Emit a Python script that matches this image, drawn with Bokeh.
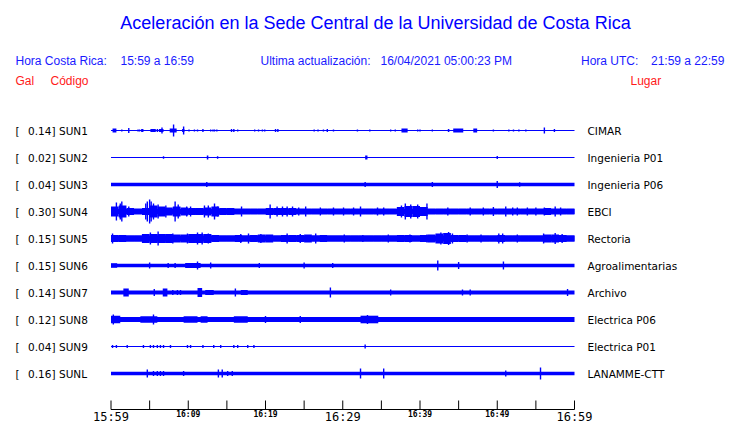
from bokeh.plotting import figure
from bokeh.models import Range1d
from bokeh.embed import file_html
from bokeh.resources import INLINE
from bokeh.core.properties import value

# ---------------- data ----------------
title = "Aceleración en la Sede Central de la Universidad de Costa Rica"
hora_cr = "15:59 a 16:59"
ultima = "16/04/2021 05:00:23 PM"
hora_utc = "21:59 a 22:59"

codes = ["SUN1", "SUN2", "SUN3", "SUN4", "SUN5", "SUN6", "SUN7", "SUN8", "SUN9", "SUNL"]
gal = ["0.14", "0.02", "0.04", "0.30", "0.15", "0.15", "0.14", "0.12", "0.04", "0.16"]
places = ["CIMAR", "Ingenieria P01", "Ingenieria P06", "EBCI", "Rectoria",
          "Agroalimentarias", "Archivo", "Electrica P06", "Electrica P01", "LANAMME-CTT"]

# background (noise) amplitude of each trace, relative units
base_amp = [0.5, 0.5, 1.7, 2.5, 3.0, 1.7, 2.0, 2.6, 0.6, 1.7]

# minute-by-minute envelope for the noisy traces (minutes 0..59)
sun4_env = [5, 6, 3.5, 3, 3.5, 6, 5, 4, 5, 4, 3.5, 3.5, 4, 5, 3.5, 3.5, 3, 3, 3, 3,
            3.5, 3.5, 3.5, 3.5, 3, 3, 3, 3, 3, 3, 3, 3, 3, 3, 3, 3, 3, 4.5, 5.5, 5.5,
            4.5, 3, 3, 3, 3, 3, 3, 3, 3, 3, 3, 3, 3, 3, 3, 3, 3.5, 3, 3, 3]
sun5_env = [3.5, 3.5, 3, 3, 4.5, 4.5, 4.5, 4.5, 4, 4, 4.5, 4.5, 4.5, 3.5, 3, 3, 3.5, 3, 3.5, 4,
            4, 3, 3.5, 3.5, 3.5, 4, 3, 3.5, 3, 3, 3, 3, 3, 3, 3, 3, 3, 3.5, 3.5, 3,
            3.5, 4, 5, 5.5, 3.5, 3.5, 3, 3, 3, 3, 3.5, 3, 3, 3, 3, 3, 4, 4, 3.5, 3]
envelopes = {3: sun4_env, 4: sun5_env}

# bursts: (start minute, end minute, amplitude)
sun1_bursts = [(0.2, 0.7, 2), (3.9, 4.2, 1.5), (5.1, 5.8, 1.5), (6.2, 6.8, 1.5), (7.6, 8.5, 2),
               (9.2, 9.5, 1.5), (37.6, 38.4, 2), (43.6, 43.8, 1.5), (44.3, 45.6, 2), (46.9, 47.4, 2)]
sun2_bursts = [(12.4, 12.6, 2), (32.9, 33.2, 2)]
sun3_bursts = []
sun4_bursts = []
sun5_bursts = []
sun6_bursts = [(0.0, 0.8, 2.2), (9.6, 11.6, 2.5)]
sun7_bursts = [(1.6, 2.3, 4), (6.7, 7.3, 4), (11.2, 11.8, 4.5), (12.2, 13.3, 2.5), (16.8, 17.7, 2.5)]
sun8_bursts = [(0.0, 1.2, 3.8), (3.8, 6.0, 3.3), (9.4, 11.2, 3.3), (11.6, 12.5, 3.3),
               (15.9, 17.7, 3.3), (32.3, 34.6, 3.8)]
sun9_bursts = []
sunl_bursts = []

# spikes: (minute, amplitude)
sun1_spikes = [(1.4, 1), (2.3, 2.5), (3.5, 1), (3.7, 1), (6.0, 1.5), (6.6, 3), (8.1, 6), (9.4, 4),
               (10.1, 1), (10.8, 1), (11.2, 1), (11.9, 1.5), (12.9, 1), (13.2, 1), (13.4, 1),
               (13.7, 1), (15.6, 1.5), (15.9, 1.5), (16.4, 1), (18.6, 1), (19.1, 1), (19.6, 1),
               (19.9, 1), (21.3, 1.5), (21.6, 1.5), (26.3, 1), (26.8, 1), (27.5, 1), (28.0, 1.5),
               (28.8, 1), (31.9, 1), (33.5, 1), (36.2, 1), (36.8, 1), (39.7, 1), (40.0, 1),
               (41.6, 1), (49.5, 1), (51.5, 1), (52.1, 1), (52.8, 1), (53.7, 1), (56.1, 3), (57.4, 1.5)]
sun2_spikes = [(6.8, 1.2), (13.8, 1.2), (50.0, 1.5)]
sun3_spikes = [(12.4, 2.5), (32.9, 2.5), (41.6, 2.5), (50.0, 3.5), (52.9, 2.2)]
sun4_spikes = [(0.7, 9), (1.2, 8), (1.4, 10), (2.3, 5), (4.5, 8), (4.7, 10), (5.0, 12), (5.2, 10),
               (5.5, 8), (6.1, 7), (7.1, 6), (8.3, 10), (8.7, 7), (9.8, 5), (10.3, 5), (12.1, 6),
               (12.6, 6), (13.4, 8), (13.8, 5), (16.9, 5), (20.6, 7), (21.5, 5), (22.2, 5),
               (22.8, 5), (23.5, 5), (24.3, 4), (25.2, 5), (27.1, 4), (28.8, 4), (30.1, 4),
               (31.4, 4), (32.3, 5), (34.5, 4), (35.3, 4), (37.6, 6), (38.1, 8), (38.8, 7),
               (39.7, 7), (40.9, 8), (43.6, 4), (46.5, 4), (48.2, 4), (49.5, 4.5), (51.1, 5),
               (52.0, 4), (52.6, 4), (53.9, 4), (55.0, 4), (56.1, 4), (57.5, 5), (58.2, 4)]
sun5_spikes = [(0.2, 5), (5.1, 6), (6.1, 7), (8.0, 5), (9.9, 5), (11.2, 6), (11.8, 6), (12.6, 5),
               (16.8, 4.5), (17.8, 5), (19.4, 4.5), (22.8, 5), (24.5, 4.5), (26.5, 5), (30.2, 4),
               (32.6, 3.5), (35.9, 4), (38.7, 4), (40.9, 4), (42.7, 6), (43.7, 6.5), (44.2, 5),
               (46.1, 4), (47.9, 4), (50.2, 5), (50.7, 5), (52.6, 4), (56.0, 5), (57.5, 5.5), (58.4, 4.5)]
sun6_spikes = [(5.0, 3), (7.4, 2.5), (8.3, 2.5), (11.2, 4), (12.9, 3), (19.2, 2.5), (25.0, 3),
               (28.7, 2.5), (42.3, 5), (45.0, 3.5), (50.8, 4)]
sun7_spikes = [(5.6, 3.5), (8.0, 2.5), (8.6, 2.5), (9.0, 2.5), (16.1, 4), (28.4, 5), (36.2, 3),
               (45.5, 3), (46.5, 3), (59.1, 3.5)]
sun8_spikes = [(0.3, 5), (5.5, 5), (20.0, 3.5), (24.5, 3.5), (33.2, 4.5)]
sun9_spikes = [(0.2, 1.5), (0.7, 1.5), (2.1, 1.5), (4.2, 1.5), (5.1, 1.5), (5.5, 1.5), (6.0, 1.5),
               (6.4, 1.5), (6.8, 1.5), (7.7, 1.5), (9.9, 1.5), (10.3, 1.5), (11.9, 1.5), (13.3, 1.5),
               (14.2, 1.5), (15.9, 1.5), (16.4, 1.5), (17.7, 1.5), (18.5, 1.5), (32.9, 2)]
sunl_spikes = [(4.7, 4), (5.5, 2.5), (6.0, 2.5), (6.4, 2.5), (6.8, 2.5), (9.4, 2.5), (13.9, 4),
               (14.4, 4), (15.1, 2.5), (15.7, 2.5), (32.3, 5), (35.3, 5), (51.1, 3), (55.6, 6)]

bursts = [sun1_bursts, sun2_bursts, sun3_bursts, sun4_bursts, sun5_bursts,
          sun6_bursts, sun7_bursts, sun8_bursts, sun9_bursts, sunl_bursts]
spikes = [sun1_spikes, sun2_spikes, sun3_spikes, sun4_spikes, sun5_spikes,
          sun6_spikes, sun7_spikes, sun8_spikes, sun9_spikes, sunl_spikes]

tick_minutes = list(range(0, 61, 5))
label_minutes = [0, 10, 20, 30, 40, 50, 60]
tick_labels = ["15:59", "16:09", "16:19", "16:29", "16:39", "16:49", "16:59"]
big_labels = [True, False, False, True, False, False, True]
duration = 60

# ---------------- layout ----------------
W, H = 740, 423
X0_PAGE = 110.5      # page x of minute 0
PX_PER_MIN = 7.725


def X(page_x):
    return (page_x - X0_PAGE) / PX_PER_MIN


def Y(page_y):
    return page_y


BLUE = "#0000ff"
TBLUE = "#1a1aff"
RED = "#ff1a1a"
SANS = value("Liberation Sans")
DEJ = value("DejaVu Sans")
MONO = value("DejaVu Sans Mono")

p = figure(width=W, height=H, x_range=Range1d(X(0), X(W)), y_range=Range1d(H, 0),
           toolbar_location=None, output_backend="svg", min_border=0,
           x_axis_location=None, y_axis_location=None)
p.grid.visible = False
p.outline_line_color = None
p.background_fill_color = "white"
p.border_fill_color = "white"

# header texts
p.text(x=[X(375)], y=[Y(22)], text=[title], text_font=SANS, text_font_size="18px",
       text_color=BLUE, text_align="center", text_baseline="middle")
hx = [X(15), X(120), X(260), X(380), X(580.5), X(650.5)]
ht = ["Hora Costa Rica:", hora_cr, "Ultima actualización:", ultima, "Hora UTC:", hora_utc]
p.text(x=hx, y=[Y(60)] * len(hx), text=ht, text_font=SANS, text_font_size="12px",
       text_color=TBLUE, text_align="left", text_baseline="middle")
p.text(x=[X(15), X(50), X(630)], y=[Y(80)] * 3, text=["Gal", "Código", "Lugar"], text_font=SANS,
       text_font_size="12px", text_color=RED, text_align="left", text_baseline="middle")

row_y = [Y(130 + 27 * i) for i in range(len(codes))]

# station labels
p.text(x=[X(15)] * len(codes), y=row_y, text=["["] * len(codes), text_font=DEJ,
       text_font_size="10.5px", text_color="black", text_baseline="middle")
p.text(x=[X(27.5)] * len(codes), y=row_y, text=[g + "]" for g in gal], text_font=DEJ,
       text_font_size="10.5px", text_color="black", text_baseline="middle")
p.text(x=[X(58.5)] * len(codes), y=row_y, text=codes, text_font=DEJ,
       text_font_size="10.5px", text_color="black", text_baseline="middle")
p.text(x=[X(587)] * len(codes), y=row_y, text=places, text_font=DEJ,
       text_font_size="10.5px", text_color="black", text_baseline="middle")

# traces
for i, yc in enumerate(row_y):
    b = base_amp[i]
    p.quad(left=[0], right=[duration], bottom=[yc + b], top=[yc - b],
           fill_color=BLUE, line_color=None)
    if i in envelopes:
        env = envelopes[i]
        p.vbar(x=[m + 0.5 for m in range(len(env))], width=1.0,
               bottom=[yc + e for e in env], top=[yc - e for e in env],
               fill_color=BLUE, line_color=None)
    if bursts[i]:
        p.quad(left=[t0 for t0, t1, a in bursts[i]], right=[t1 for t0, t1, a in bursts[i]],
               bottom=[yc + a for t0, t1, a in bursts[i]], top=[yc - a for t0, t1, a in bursts[i]],
               fill_color=BLUE, line_color=None)
    if spikes[i]:
        p.segment(x0=[t for t, a in spikes[i]], x1=[t for t, a in spikes[i]],
                  y0=[yc + a for t, a in spikes[i]], y1=[yc - a for t, a in spikes[i]],
                  line_color=BLUE, line_width=1.4)

# time axis
AX_Y = Y(409)
p.segment(x0=[0], x1=[duration], y0=[AX_Y], y1=[AX_Y], line_color="black", line_width=1)
p.segment(x0=tick_minutes, x1=tick_minutes, y0=[AX_Y] * len(tick_minutes),
          y1=[AX_Y - 9] * len(tick_minutes), line_color="black", line_width=1)
bx = [m for m, b in zip(label_minutes, big_labels) if b]
bt = [t for t, b in zip(tick_labels, big_labels) if b]
sx = [m for m, b in zip(label_minutes, big_labels) if not b]
st = [t for t, b in zip(tick_labels, big_labels) if not b]
p.text(x=bx, y=[Y(416)] * len(bx), text=bt, text_font=MONO, text_font_size="12px",
       text_color="black", text_align="center", text_baseline="middle")
p.text(x=sx, y=[Y(414)] * len(sx), text=st, text_font=MONO, text_font_size="8px",
       text_color="black", text_align="center", text_baseline="middle", text_font_style="bold")

open("out.html", "w").write(file_html(p, INLINE))
